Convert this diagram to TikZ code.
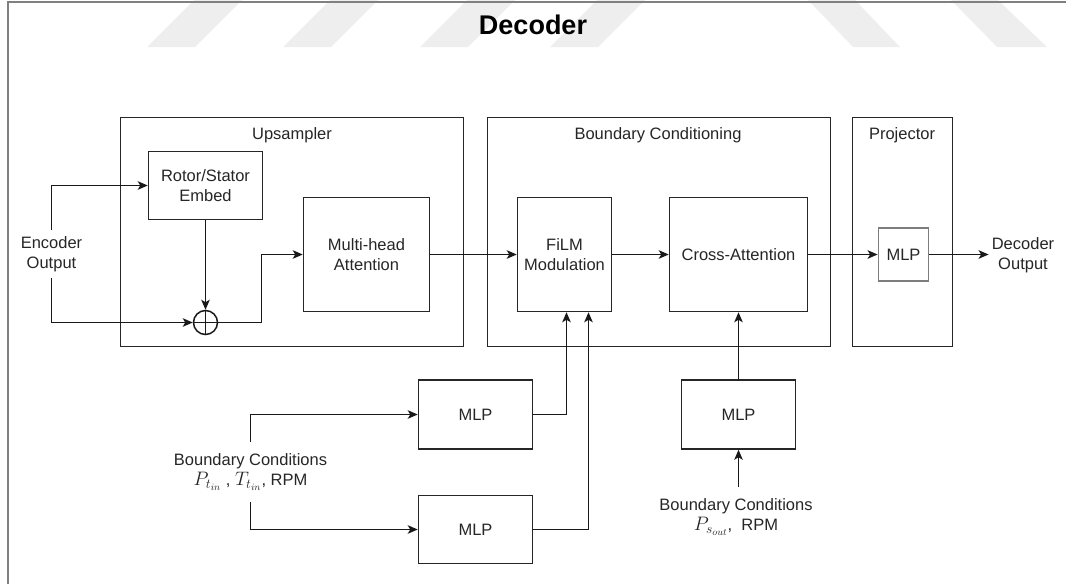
\RequirePackage{fix-cm}
\documentclass[tikz,border=0pt]{standalone}
\usepackage{fontspec}
\setmainfont{Liberation Sans}
\usetikzlibrary{arrows.meta,calc}
\newcommand\bigmath[1]{{\fontsize{19.5}{20}\selectfont$#1$}}

\begin{document}
\begin{tikzpicture}[x=1pt,y=-1pt,
  txt/.style={font=\fontsize{16.5}{20}\selectfont, text=black!85},
  box/.style={draw=black!85, line width=1.5pt, txt, align=center, inner sep=0pt},
  grp/.style={draw=black!85, line width=1.5pt},
  lbl/.style={txt, align=center, inner sep=3pt},
  ln/.style={draw=black!90, line width=1.5pt},
  arr/.style={ln, -{Stealth[length=10pt,width=8.5pt,inset=2.5pt]}},
  wm/.style={fill=gray!13, draw=none}
]
\useasboundingbox (0,0) rectangle (1070,584);

% faint page watermark stripes
\fill[wm] (147,47) -- (195,47) -- (242,0) -- (194,0) -- cycle;
\fill[wm] (283,47) -- (331,47) -- (378,0) -- (330,0) -- cycle;
\fill[wm] (420,47) -- (468,47) -- (515,0) -- (467,0) -- cycle;
\fill[wm] (550,47) -- (598,47) -- (645,0) -- (597,0) -- cycle;
\fill[wm] (808,0) -- (855,0) -- (900,47) -- (853,47) -- cycle;
\fill[wm] (951,0) -- (998,0) -- (1047,47) -- (997,47) -- cycle;

% page frame
\draw[gray, line width=2pt] (8,584) -- (8,2) -- (1066,2);

% title
\node[font=\fontsize{27}{32}\selectfont\bfseries, text=black] (title) at (533,25) {Decoder};

% group frames
\draw[grp] (120.5,117.5) rectangle (463.5,346.5);
\draw[grp] (487.5,117.5) rectangle (830.5,346.5);
\draw[grp] (852.5,117.5) rectangle (952.5,346.5);
\node[txt] (gup) at (292,135) {Upsampler};
\node[txt] (gbc) at (658,135) {Boundary Conditioning};
\node[txt] (gpr) at (902,135) {Projector};

% blocks
\node[box, minimum width=114pt, minimum height=68pt] (rotor) at (205.5,185.5) {Rotor/Stator\\Embed};
\node[box, minimum width=126pt, minimum height=114pt] (mha) at (366.5,254.5) {Multi-head\\Attention};
\node[box, minimum width=94pt, minimum height=114pt] (film) at (564.5,254.5) {FiLM\\Modulation};
\node[box, minimum width=138pt, minimum height=114pt] (cross) at (738.5,254.5) {Cross-Attention};
\node[box, draw={rgb,255:red,125;green,125;blue,125}, line width=1.8pt,
      minimum width=50pt, minimum height=53pt] (pmlp) at (903.5,254.5) {MLP};
\node[box, minimum width=114pt, minimum height=69pt] (mlpa) at (475.5,414.5) {MLP};
\node[box, minimum width=114pt, minimum height=68pt] (mlpb) at (475.5,529.5) {MLP};
\node[box, minimum width=114pt, minimum height=69pt] (mlpc) at (738.5,414.5) {MLP};

% summation
\node[circle, draw=black!90, line width=1.5pt, minimum size=24pt, inner sep=0pt] (sum) at (205.5,322.5) {};
\draw[ln] (sum.north) -- (sum.south);
\draw[ln] (sum.west) -- (sum.east);

% input / output labels
\node[lbl, inner ysep=6pt] (enc) at (51.5,254) {Encoder\\Output};
\node[lbl, inner xsep=3pt] (dec) at (1023,255.5) {Decoder\\Output};
\node[lbl, inner ysep=11pt] (bcl) at (250.5,472) {Boundary Conditions\\\bigmath{P_{t_{in}}} , \bigmath{T_{t_{in}}}, RPM};
\node[lbl, inner ysep=11pt] (bcr) at (736,517) {Boundary Conditions\\\bigmath{P_{s_{out}}},~ RPM};

% connectors
\draw[arr] (enc.north) |- (rotor.west);
\draw[arr] (enc.south) |- (sum.west);
\draw[arr] (rotor.south) -- (sum.north);
\draw[arr] (sum.east) -- ++(43,0) |- (mha.west);
\draw[arr] (mha.east) -- (film.west);
\draw[arr] (film.east) -- (cross.west);
\draw[arr] (cross.east) -- (pmlp.west);
\draw[arr] (pmlp.east) -- (pmlp.east -| dec.west);
\draw[arr] (bcl.north) |- (mlpa.west);
\draw[arr] (bcl.south) |- (mlpb.west);
\draw[arr] (mlpa.east) -| ([xshift=2pt]film.south);
\draw[arr] (mlpb.east) -| ([xshift=24pt]film.south);
\draw[arr] (mlpc.north) -- (mlpc.north |- cross.south);
\draw[arr] (mlpc.south |- bcr.north) -- (mlpc.south);
\end{tikzpicture}
\end{document}
